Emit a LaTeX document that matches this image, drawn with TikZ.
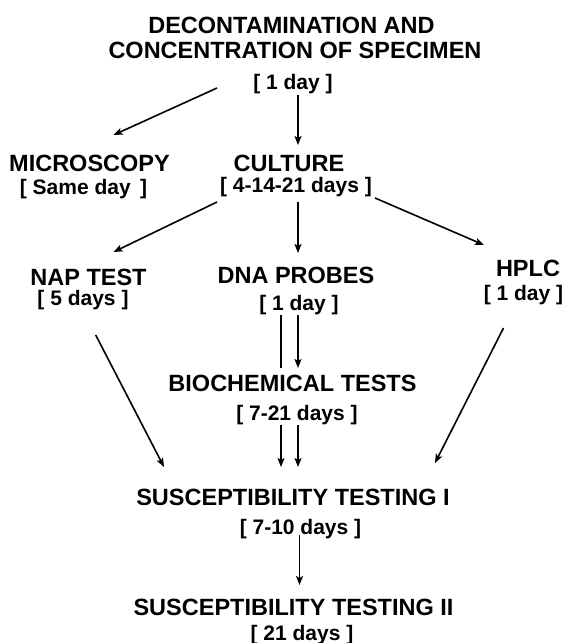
\documentclass[tikz,border=0pt]{standalone}
\usepackage{fontspec}
\setmainfont{Liberation Sans}
\usetikzlibrary{arrows.meta}

\begin{document}
\begin{tikzpicture}[x=0.5pt,y=-0.5pt,
  ttl/.style={inner sep=0pt,text height=8.4pt,text depth=0pt,
    font=\fontsize{11.75pt}{14pt}\selectfont\bfseries},
  dys/.style={inner sep=0pt,text height=7.5pt,text depth=0pt,
    font=\fontsize{10.5pt}{12pt}\selectfont\bfseries},
  arr/.style={line width=0.8pt,-{Stealth[length=4.5pt,width=3.5pt,inset=1pt]}},
  bar/.style={line width=0.8pt}]
\useasboundingbox (0,0) rectangle (566,643);
% --- steps ---------------------------------------------------------
\node[ttl] (dec)  at (291.5,25) {DECONTAMINATION AND};
\node[ttl] (decb) at (295,50)   {CONCENTRATION OF SPECIMEN};
\node[dys] (decd) at (293,82)   {[ 1 day ]};
\node[ttl] (micro)  at (89.5,163) {MICROSCOPY};
\node[dys] (microd) at (83.5,187) {[ Same day\,\ ]};
\node[ttl] (cult)  at (289,163) {CULTURE};
\node[dys] (cultd) at (296,185) {[ 4-14-21 days ]};
\node[ttl] (nap)  at (88.5,277) {NAP TEST};
\node[dys] (napd) at (83,298)   {[ 5 days ]};
\node[ttl] (dna)  at (296,275) {DNA PROBES};
\node[dys] (dnad) at (299,303) {[ 1 day ]};
\node[ttl] (hplc)  at (528,268)   {HPLC};
\node[dys] (hplcd) at (523.5,293) {[ 1 day ]};
\node[ttl] (bio)  at (292.5,383) {BIOCHEMICAL TESTS};
\node[dys] (biod) at (297,413)   {[ 7-21 days ]};
\node[ttl] (sus1)  at (293,497)   {SUSCEPTIBILITY TESTING I};
\node[dys] (sus1d) at (300.5,527) {[ 7-10 days ]};
\node[ttl] (sus2)  at (293.5,607) {SUSCEPTIBILITY TESTING II};
\node[dys] (sus2d) at (302,633)   {[ 21 days ]};
% --- connectors ----------------------------------------------------
\draw[arr] ([shift={(-76,6)}]decd.center) -- ([shift={(24,-28)}]micro.center);
\draw[arr] ([shift={(5,13)}]decd.center) -- ([shift={(9,-18)}]cult.center);
\draw[arr] ([shift={(-79,17)}]cultd.center) -- ([shift={(25,-25)}]nap.center);
\draw[arr] ([shift={(2,17)}]cultd.center) -- ([shift={(2,-22)}]dna.center);
\draw[arr] ([shift={(79,13)}]cultd.center) -- ([shift={(-44,-23)}]hplc.center);
% double lines into and out of the biochemical tests
\draw[bar] ([shift={(-18,12)}]dnad.center) -- ([shift={(-11.5,-15)}]bio.center);
\draw[arr] ([shift={(-1,12)}]dnad.center) -- ([shift={(5.5,-15)}]bio.center);
\draw[arr] ([shift={(-16,12)}]biod.center) -- ([shift={(-12,-30)}]sus1.center);
\draw[arr] ([shift={(1,12)}]biod.center) -- ([shift={(5,-30)}]sus1.center);
\draw[arr] ([shift={(12.7,37)}]napd.center) -- ([shift={(-129,-30)}]sus1.center);
\draw[arr] ([shift={(-20,35)}]hplcd.center) -- ([shift={(142,-34)}]sus1.center);
\draw[arr] ([shift={(-1,8)}]sus1d.center) -- ([shift={(6,-22)}]sus2.center);
\end{tikzpicture}
\end{document}
